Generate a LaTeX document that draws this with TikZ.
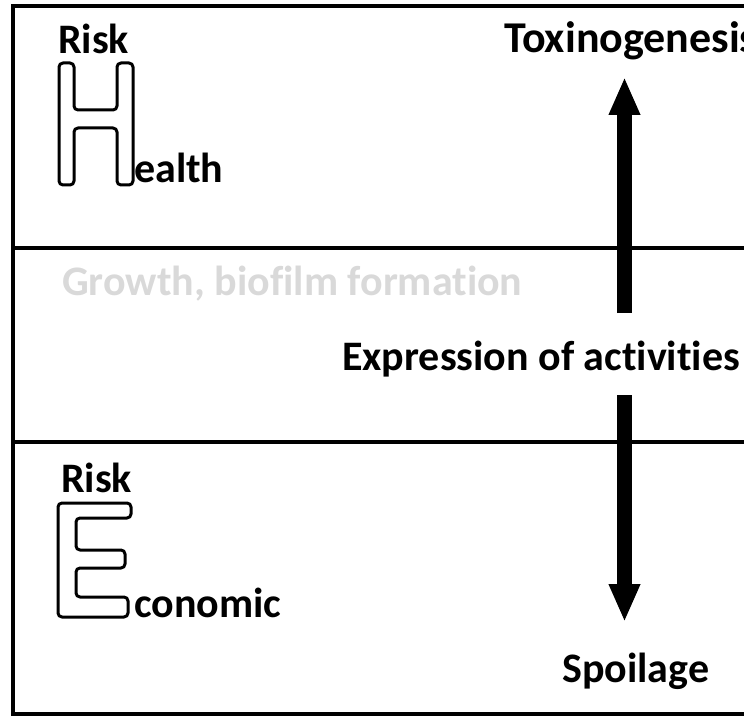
\documentclass[tikz,border=0pt]{standalone}
\usepackage{fontspec}
\setmainfont[Ligatures=NoCommon]{Carlito}
\usetikzlibrary{arrows.meta}
\begin{document}
\begin{tikzpicture}[x=1pt,y=-1pt,
  lbl/.style={anchor=base west,inner sep=0pt,font=\bfseries\fontsize{42}{48}\selectfont},
  frame/.style={line width=4pt},
  letter/.style={line width=3pt,rounded corners=4pt,line join=round},
  bigarrow/.style={line width=15pt,-{Triangle[width=29pt,length=38pt]}}]
\useasboundingbox (0,0) rectangle (744,727);
\clip (0,0) rectangle (744,727);
% frame and dividers
\draw[frame] (760,6) -- (13,6) -- (13,714) -- (760,714);
\draw[frame] (13,248) -- (760,248);
\draw[frame] (13,442) -- (760,442);
% big outlined H
\draw[letter] (59,63) -- (74,63) -- (74,110) -- (117,110) -- (117,63) -- (133,63)
  -- (133,185) -- (117,185) -- (117,128) -- (74,128) -- (74,185) -- (59,185) -- cycle;
% big outlined E
\draw[letter] (58,503) -- (131,503) -- (131,518) -- (76,518) -- (76,550) -- (125,550)
  -- (125,568) -- (76,568) -- (76,597) -- (128,597) -- (128,617) -- (58,617) -- cycle;
% texts
\node[lbl] (risk1) at (58,54) {Risk};
\node[lbl] (health) at (134,183) {ealth};
\node[lbl,font=\bfseries\fontsize{44}{50}\selectfont] (toxin) at (504,53) {Toxinogenesis};
\node[lbl,text=black!15] (growth) at (62,295) {Growth, biofilm formation};
\node[lbl] (expr) at (342,370) {Expression of activities};
\node[lbl] (risk2) at (61,492) {Risk};
\node[lbl] (econ) at (134,617) {conomic};
\node[lbl] (spoil) at (562,682) {Spoilage};
% arrows
\coordinate (upS) at (624.5,313);
\coordinate (upE) at (624.5,77);
\coordinate (dnS) at (624.5,395);
\coordinate (dnE) at (624.5,622);
\draw[bigarrow] (upS) -- (upE);
\draw[bigarrow] (dnS) -- (dnE);
\end{tikzpicture}
\end{document}
